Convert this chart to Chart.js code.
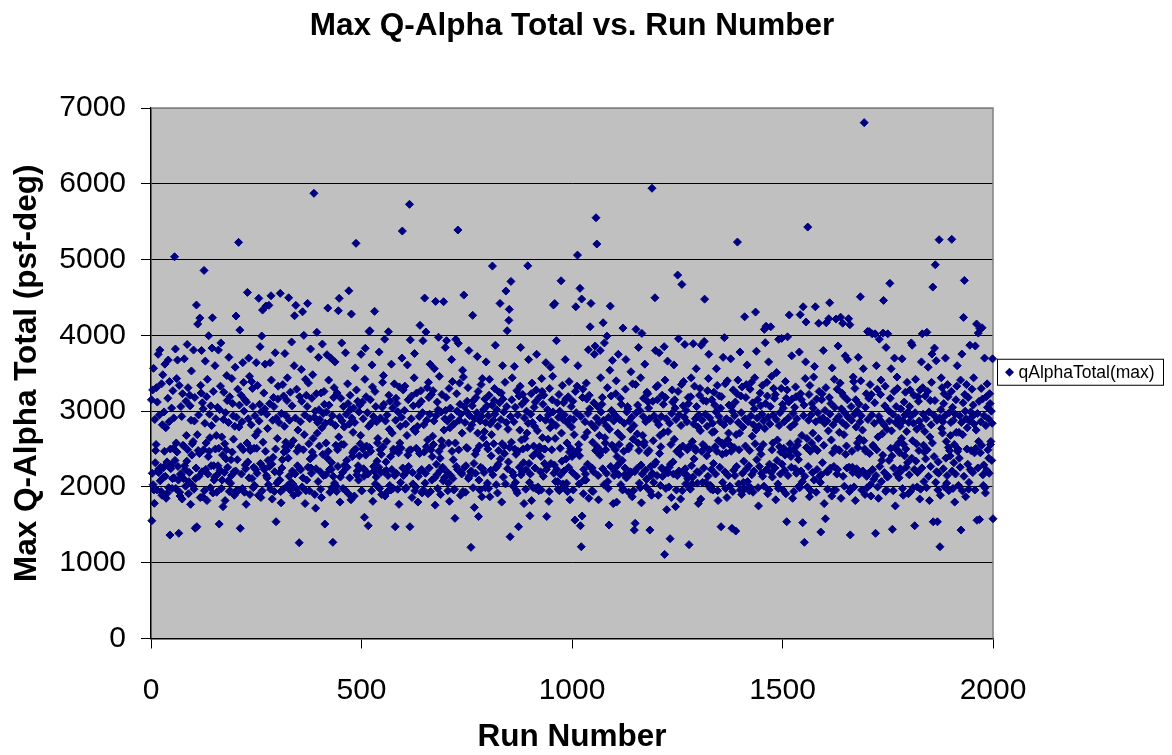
<!DOCTYPE html>
<html>
<head>
<meta charset="utf-8">
<title>Max Q-Alpha Total vs. Run Number</title>
<script src="https://cdn.jsdelivr.net/npm/chart.js@4.4.1/dist/chart.umd.min.js"></script>
<style>
  html, body { margin: 0; padding: 0; background: #fff; }
  #wrap { width: 1172px; height: 755px; }
</style>
</head>
<body>
<div id="wrap"><canvas id="chart" width="1172" height="755"></canvas></div>
<script>
const chartTitle = "Max Q-Alpha Total vs. Run Number";
const xTitle = "Run Number";
const yTitle = "Max Q-Alpha Total (psf-deg)";
const seriesLabel = "qAlphaTotal(max)";
const xTicks = [0, 500, 1000, 1500, 2000];
const yTicks = [0, 1000, 2000, 3000, 4000, 5000, 6000, 7000];
const firstRun = 1;

// max q-alpha total for each run, 10 runs per line
const qAlphaTotalMax = [
  // runs 1-100
  3150, 1554, 2180, 3280, 2030, 3565, 1960, 1784, 2890, 2320,
  2480, 2560, 3310, 1960, 3120, 2210, 3750, 2190, 2240, 2950,
  3806, 2080, 2260, 1940, 3360, 1890, 2820, 3480, 2250, 2130,
  2990, 2470, 3620, 2140, 2780, 1850, 2300, 2330, 1920, 3170,
  3674, 1990, 2860, 3390, 1365, 2500, 2240, 2290, 3040, 1980,
  2110, 3270, 2510, 2910, 2120, 5037, 2350, 3820, 1980, 2580,
  3430, 2460, 3674, 2270, 2090, 1388, 3340, 1930, 1880, 2170,
  3060, 2160, 2930, 1840, 3230, 2550, 2110, 2540, 3690, 2280,
  2230, 2010, 3130, 2680, 2340, 3880, 2490, 3310, 1910, 2070,
  2190, 3210, 3070, 1770, 2880, 3530, 2420, 2570, 2020, 2600,
  // runs 101-200
  3806, 1970, 2870, 3180, 1455, 2110, 2250, 4400, 1475, 2690,
  4149, 2480, 2950, 2140, 2440, 4228, 1860, 3340, 3240, 3800,
  2200, 3110, 1870, 3030, 2490, 4857, 1950, 2840, 3660, 2230,
  2580, 3190, 1820, 3420, 2170, 2400, 3995, 2470, 2960, 2650,
  1990, 3070, 2280, 2810, 3832, 4232, 1920, 3260, 2280, 2090,
  2130, 3600, 2500, 2900, 2680, 1930, 2160, 3050, 2280, 3806,
  2510, 1510, 3020, 2220, 3330, 3900, 1980, 2660, 2090, 2420,
  1740, 2890, 3250, 2190, 2570, 1820, 2980, 2370, 2490, 3470,
  3140, 2260, 2080, 2850, 3710, 1940, 3190, 1950, 2050, 2360,
  2150, 3430, 2460, 3100, 2940, 2630, 2200, 1890, 2800, 3580,
  // runs 201-300
  2210, 4255, 2920, 1960, 2360, 3290, 1950, 5227, 2790, 3080,
  4070, 1454, 2530, 3210, 2170, 2860, 1980, 3640, 2490, 3380,
  3000, 1930, 3150, 2290, 2240, 1770, 3120, 2580, 4567, 2330,
  2900, 3700, 2120, 3460, 1900, 2480, 2510, 2820, 3390, 2110,
  3300, 3060, 1990, 2260, 2510, 2020, 2940, 2680, 2230, 3640,
  2510, 2180, 3340, 2730, 1890, 4488, 2870, 3090, 3850, 2310,
  1860, 2990, 3991, 1950, 4334, 2590, 2260, 3240, 2230, 3030,
  3620, 2470, 4387, 2150, 2960, 2120, 2770, 2350, 2030, 4396,
  2270, 3100, 3640, 1970, 4522, 3410, 2300, 1840, 2880, 2390,
  3180, 3060, 1940, 2200, 3770, 2500, 1541, 2910, 2050, 2640,
  // runs 301-400
  3160, 3330, 2080, 2850, 2190, 2090, 4554, 1940, 1790, 2970,
  2250, 2360, 3350, 1970, 3200, 2460, 2800, 3760, 2530, 2590,
  2940, 2480, 3140, 3440, 2020, 2380, 4496, 2140, 2880, 1960,
  3250, 2550, 2060, 3912, 3070, 2210, 2040, 2610, 1890, 3600,
  4259, 2170, 2910, 4396, 1980, 3290, 2470, 2280, 2750, 1920,
  2520, 1264, 3190, 2230, 2860, 2230, 3550, 3130, 2000, 4311,
  2120, 2490, 4000, 2690, 2950, 1780, 3420, 1950, 3210, 2090,
  3060, 4422, 2260, 3370, 2570, 1950, 2900, 2370, 3820, 2250,
  2180, 3170, 2460, 3480, 2640, 2410, 5874, 2920, 1900, 3000,
  1720, 2240, 3230, 4040, 2710, 2850, 2070, 3710, 3020, 2540,
  // runs 401-500
  2890, 2200, 1970, 3240, 1860, 2780, 3885, 2430, 2970, 2150,
  3260, 3090, 1510, 2840, 2160, 2580, 2990, 3745, 2380, 4360,
  2470, 3410, 3080, 2230, 1930, 2860, 3700, 2230, 2320, 1990,
  2940, 1269, 2140, 3180, 3310, 2050, 3650, 2810, 2550, 2010,
  1940, 3240, 2490, 2270, 4325, 2660, 4488, 2920, 1800, 2130,
  3170, 2560, 3900, 2870, 2190, 1980, 3060, 2560, 2790, 2290,
  1960, 3770, 2250, 2960, 2350, 2260, 3360, 3100, 1910, 4588,
  2830, 2120, 3210, 3020, 1830, 4281, 2910, 2400, 2450, 2720,
  3040, 2480, 1880, 2850, 3570, 2500, 5214, 3280, 2160, 2210,
  3130, 2280, 2090, 2990, 2410, 3080, 2570, 2680, 3750, 1950,
  // runs 501-600
  1950, 3120, 2500, 2900, 2240, 2140, 1600, 3420, 3830, 2420,
  3190, 2540, 2190, 2980, 2170, 1488, 2800, 4050, 2520, 4061,
  3150, 2470, 2840, 1950, 3610, 3320, 1810, 2930, 2270, 2210,
  4317, 3260, 2040, 3060, 2130, 2860, 2340, 2580, 2640, 2000,
  2260, 3780, 1980, 2490, 2910, 2190, 2430, 1900, 3050, 3380,
  2530, 3470, 3090, 2200, 3950, 1880, 2870, 2330, 2220, 2600,
  2950, 1940, 2150, 4048, 3210, 2760, 2020, 3130, 2400, 1960,
  3620, 2230, 2710, 3040, 1980, 2500, 2470, 3360, 2150, 1475,
  2880, 3170, 2180, 3100, 2500, 1970, 2990, 2450, 1770, 3320,
  2580, 2800, 2060, 2510, 2920, 3700, 5376, 2250, 3280, 2150,
  // runs 601-700
  2160, 3010, 3330, 1970, 2830, 1990, 2200, 2680, 3610, 2420,
  3150, 2270, 2480, 5729, 1475, 3940, 2490, 2900, 3200, 1860,
  2190, 2040, 3070, 2760, 3440, 3760, 1950, 2730, 2000, 2510,
  3240, 2500, 2800, 1800, 2140, 3090, 2930, 2440, 4132, 2210,
  3270, 3130, 2230, 1920, 2980, 3930, 1960, 2820, 2460, 4492,
  2050, 2180, 4044, 2530, 2880, 3310, 2620, 1910, 3380, 3180,
  2250, 2960, 3620, 1940, 2490, 3220, 2090, 2400, 2670, 3270,
  2560, 2870, 3560, 2120, 1760, 4448, 2940, 2300, 2160, 3120,
  1980, 3020, 3975, 2470, 3460, 2210, 2380, 1900, 2990, 2610,
  3220, 2540, 2260, 2080, 4444, 2750, 2120, 2900, 3840, 3010,
  // runs 701-800
  3180, 3930, 2200, 2870, 1950, 2050, 2580, 3300, 1810, 2780,
  3040, 2150, 2920, 3680, 2470, 3390, 2110, 2360, 1960, 2830,
  1970, 1586, 2580, 3947, 2270, 3230, 3000, 2230, 5390, 3895,
  2490, 2880, 3370, 3090, 1890, 2960, 2190, 2170, 2710, 3540,
  1940, 3450, 4532, 3060, 2260, 2850, 1930, 2280, 2520, 2990,
  3130, 2510, 3310, 2110, 3800, 2140, 2940, 2770, 2200, 1203,
  2210, 2820, 3070, 4264, 1990, 3140, 2310, 1730, 2900, 2430,
  2180, 3180, 2480, 2980, 3720, 2710, 3260, 1610, 2090, 2540,
  1960, 2870, 2260, 3350, 2930, 1870, 3430, 2240, 2650, 3020,
  2190, 2730, 3160, 1990, 2850, 3650, 2560, 3070, 2050, 2500,
  // runs 801-900
  2940, 1980, 3210, 3420, 1870, 2830, 2220, 2410, 2690, 3080,
  4914, 2160, 2880, 2570, 3140, 3300, 2960, 3870, 2250, 2030,
  3020, 2270, 1920, 2800, 2300, 2480, 3250, 3110, 4422, 2370,
  2890, 3240, 1800, 2570, 3600, 3160, 2130, 2990, 2540, 2440,
  3380, 2040, 4585, 2850, 3060, 4061, 2240, 2760, 2330, 4198,
  4343, 2520, 1343, 2930, 4712, 2590, 3150, 3440, 2190, 2010,
  2150, 2860, 3590, 2500, 3050, 2060, 2430, 1950, 3270, 1920,
  2950, 2470, 1475, 3200, 2260, 2750, 3330, 3840, 2160, 2620,
  3090, 2200, 3220, 2500, 2320, 1780, 2910, 2640, 3140, 1970,
  2230, 3000, 2710, 2520, 4918, 2840, 3680, 2310, 2060, 1620,
  // runs 901-1000
  2170, 2960, 3230, 1820, 3370, 2850, 2410, 1990, 2540, 3050,
  2800, 2250, 3120, 1980, 3280, 3750, 2460, 2740, 2000, 2480,
  1950, 3180, 2530, 2910, 2200, 2400, 1960, 3430, 3260, 2650,
  3090, 2140, 3210, 2500, 2310, 2500, 2880, 3640, 2230, 1610,
  2270, 3020, 2630, 2950, 1810, 1940, 3300, 2780, 3580, 2310,
  2860, 2490, 3150, 3460, 2990, 4400, 2180, 2290, 4420, 2640,
  2070, 2810, 3930, 2230, 3110, 2070, 1970, 2920, 3220, 1950,
  3000, 2510, 2160, 4720, 2710, 2340, 3340, 2040, 2890, 3110,
  2210, 2950, 1980, 3680, 3160, 2370, 2050, 2580, 1940, 2840,
  3190, 2260, 3390, 2460, 1830, 2900, 2510, 3060, 2790, 2400,
  // runs 1001-1100
  2190, 3130, 1960, 2890, 2690, 2440, 1563, 3260, 4377, 2980,
  2140, 3330, 5059, 3600, 2490, 2560, 2040, 2410, 4620, 1488,
  2930, 1211, 4479, 1616, 3180, 3290, 1910, 2230, 2090, 2660,
  2860, 2170, 2090, 3370, 3160, 2720, 2300, 2970, 3810, 1850,
  3210, 3030, 4113, 2260, 4422, 2830, 1950, 2250, 2590, 1940,
  2200, 3110, 3750, 2780, 3859, 2480, 5552, 2910, 5205, 2530,
  3060, 2150, 1830, 2850, 2680, 2420, 3800, 3440, 2990, 2470,
  3090, 3180, 2240, 4166, 2880, 2030, 3900, 2650, 2580, 2490,
  2810, 2180, 3990, 3310, 2070, 1980, 2920, 1497, 2760, 3540,
  4386, 2270, 3200, 3010, 2550, 3670, 2540, 1780, 2870, 2150,
  // runs 1101-1200
  2210, 2950, 2490, 3230, 3400, 1800, 2400, 2280, 2710, 3750,
  2160, 2560, 2890, 2320, 3170, 2030, 3090, 2660, 2350, 1960,
  4096, 1970, 2470, 2840, 2160, 2250, 3290, 3680, 2120, 2990,
  2130, 3060, 3030, 2500, 1930, 2870, 2540, 2200, 2760, 3520,
  2190, 2920, 1870, 3360, 2630, 1950, 2810, 1431, 2200, 1520,
  3350, 4079, 2980, 2240, 2700, 3080, 2580, 3840, 2480, 2050,
  3010, 1990, 3440, 2290, 1790, 4026, 2170, 2680, 2930, 3170,
  2550, 2590, 3620, 2220, 2860, 2000, 2100, 3250, 2450, 3230,
  3120, 3040, 2480, 2900, 1431, 1940, 2270, 2150, 1890, 5941,
  2180, 3130, 2610, 2060, 2940, 2300, 4496, 3800, 2330, 3320,
  // runs 1201-1300
  2870, 2150, 3150, 3340, 1890, 2820, 3770, 2440, 2680, 2020,
  2530, 2930, 2250, 3210, 2140, 2230, 3090, 2720, 3850, 1110,
  3410, 3180, 1980, 2900, 1700, 2190, 3660, 2730, 2190, 2000,
  2260, 2840, 1317, 2300, 2560, 1860, 2970, 3280, 3120, 2330,
  2170, 3610, 2630, 3150, 3040, 1740, 2890, 1960, 2470, 2150,
  4795, 3260, 3955, 2210, 2950, 2510, 2430, 1840, 2810, 3350,
  4672, 1950, 2540, 3070, 3390, 2180, 2920, 3880, 2240, 2040,
  3010, 2160, 2860, 2490, 2110, 3180, 3100, 1238, 2540, 1980,
  1970, 3190, 3440, 2280, 2040, 2600, 2130, 3890, 2830, 2370,
  3330, 2510, 2900, 2480, 3560, 3060, 2200, 2050, 2790, 1780,
  // runs 1301-1400
  2950, 2190, 3210, 3300, 2740, 1840, 3870, 2470, 2880, 2060,
  2560, 3140, 2250, 3920, 4478, 2530, 2960, 2060, 3130, 2410,
  2800, 3270, 2140, 3430, 3750, 2490, 2910, 1990, 2020, 1970,
  2230, 3150, 2720, 2840, 1960, 2310, 3250, 2730, 3080, 2530,
  2170, 2990, 3560, 2470, 3340, 1950, 1820, 2610, 2930, 3200,
  2260, 2860, 3040, 1475, 3190, 2580, 2430, 2060, 3710, 2550,
  2820, 3970, 2200, 3360, 1980, 2450, 2900, 1860, 3400, 2620,
  2150, 2710, 3080, 2560, 2010, 2870, 3690, 2470, 3060, 1454,
  3000, 1940, 3280, 2220, 2520, 2940, 2150, 3120, 1418, 2690,
  2270, 3230, 5231, 3410, 2850, 2040, 2490, 2710, 3780, 1960,
  // runs 1401-1500
  3200, 2980, 1900, 3320, 2180, 2790, 2060, 2340, 1970, 4245,
  2900, 2540, 3180, 3350, 2240, 3610, 2070, 2860, 2000, 2280,
  1950, 2480, 3290, 1990, 2940, 3380, 2160, 2670, 3110, 1930,
  2820, 2210, 3030, 3440, 2570, 4307, 2750, 3790, 2360, 2910,
  3150, 1990, 1750, 2800, 2270, 2500, 3240, 3070, 2430, 2180,
  2960, 3340, 2140, 2560, 2870, 2010, 4079, 2770, 3903, 3100,
  4120, 2230, 3380, 3200, 1910, 2920, 3650, 1960, 2300, 2830,
  3060, 4113, 2190, 3460, 2490, 2130, 2580, 2950, 3300, 2260,
  3170, 2250, 3220, 1830, 2890, 3510, 2350, 2620, 2040, 1980,
  3947, 2810, 2530, 2980, 2170, 2460, 3300, 3960, 2300, 3090,
  // runs 1501-1600
  1960, 3040, 2510, 2860, 2220, 2420, 3390, 1910, 3170, 1541,
  3280, 3980, 2150, 2910, 3120, 4269, 2480, 2570, 2790, 2400,
  2260, 3730, 3160, 1850, 2970, 2490, 1940, 2830, 3050, 2240,
  3320, 3190, 2180, 2900, 2550, 2430, 2600, 2360, 2010, 3780,
  1990, 4273, 3230, 2210, 3150, 2680, 2070, 1528, 4377, 2940,
  3080, 1269, 2140, 3430, 3650, 4176, 2520, 2640, 2000, 5429,
  2270, 2880, 3220, 1870, 3340, 2470, 1950, 2950, 2580, 3100,
  2190, 2710, 3040, 3450, 2090, 3590, 2510, 4377, 2860, 1930,
  3160, 2230, 2480, 2980, 2640, 4160, 3260, 2140, 2890, 2060,
  1405, 2160, 3150, 3230, 2320, 2910, 3800, 2550, 1780, 2840,
  // runs 1601-1700
  3010, 1580, 3310, 4166, 2200, 2870, 1970, 2200, 2740, 4220,
  3180, 4430, 2960, 2250, 3100, 2620, 1880, 3570, 2450, 2820,
  1950, 2270, 3420, 3050, 2510, 1960, 4215, 2890, 2170, 3290,
  2230, 3860, 2490, 2930, 2720, 2480, 3370, 4240, 1850, 3030,
  3240, 2850, 4160, 2140, 3200, 2690, 2010, 2980, 3730, 2430,
  2810, 2540, 2250, 3150, 3680, 2920, 4220, 2260, 1940, 4140,
  1367, 1980, 3060, 2880, 2470, 2260, 2190, 3450, 3390, 2000,
  2960, 3300, 1820, 3150, 2790, 2240, 3000, 2580, 2520, 3710,
  2160, 3090, 2640, 2860, 4509, 3400, 2940, 1960, 2200, 2750,
  2210, 3560, 2610, 6807, 2500, 1900, 3050, 2470, 3230, 2140,
  // runs 1701-1800
  1990, 4050, 2890, 2180, 3170, 4050, 2440, 3350, 2030, 1880,
  3220, 2950, 4020, 2230, 2550, 2530, 2100, 2840, 3110, 4020,
  1388, 2150, 3600, 2490, 3290, 2000, 2660, 1850, 2930, 3950,
  2270, 2880, 3220, 3410, 2070, 2350, 2700, 2420, 4030, 4461,
  2820, 2190, 3070, 3330, 1940, 3840, 1960, 2760, 2130, 4020,
  2140, 3010, 2350, 2870, 4686, 3170, 2510, 3560, 2740, 2410,
  1441, 2960, 1950, 2250, 3260, 3700, 2520, 1750, 2850, 3060,
  2170, 3450, 3300, 2480, 2910, 2580, 2120, 2450, 2800, 2240,
  3030, 2210, 2640, 3690, 1980, 2870, 1890, 2560, 3120, 2410,
  2950, 3250, 2500, 2260, 2730, 3380, 2320, 2990, 1910, 2850,
  // runs 1801-1900
  2160, 3060, 3280, 1940, 2930, 3900, 2380, 3870, 2610, 1990,
  2840, 3210, 2230, 1488, 2980, 3420, 2340, 2570, 2760, 2000,
  2190, 3190, 3130, 2480, 2870, 1840, 3280, 1970, 2800, 3650,
  2250, 4020, 3310, 2960, 2550, 2070, 2460, 2730, 3200, 2370,
  2900, 1990, 4040, 2490, 3260, 3580, 2140, 2990, 1820, 2660,
  3140, 2270, 2820, 3380, 3753, 2580, 4637, 1540, 2950, 2400,
  3832, 3140, 4931, 2060, 3665, 2200, 2880, 1540, 1960, 2330,
  2180, 5262, 2910, 1211, 1890, 3020, 3440, 2770, 3310, 2710,
  2860, 2240, 3100, 3230, 2000, 2940, 3700, 2380, 2600, 2050,
  2150, 3350, 3190, 2520, 1950, 2980, 2480, 2410, 2680, 2850,
  // runs 1901-2000
  3260, 5267, 2210, 3050, 1980, 2880, 2320, 2560, 1800, 2960,
  2170, 3150, 2720, 3330, 3600, 2470, 2500, 2020, 2720, 2380,
  2940, 2260, 3410, 1431, 2850, 3753, 1950, 2690, 3110, 4237,
  2140, 4725, 3220, 3000, 1870, 2900, 3350, 2500, 2780, 2300,
  3180, 1970, 2060, 2870, 3870, 2230, 2990, 2480, 2210, 3290,
  2930, 2190, 3080, 3440, 2830, 2450, 1960, 3860, 2510, 2750,
  4150, 1560, 2970, 2250, 4030, 2600, 3130, 1570, 4090, 2450,
  2860, 3300, 2550, 4100, 3160, 2160, 2020, 2290, 2940, 3700,
  1990, 1920, 2810, 3190, 2220, 3360, 3050, 2490, 2900, 2380,
  2180, 3230, 3100, 2560, 2600, 3000, 2350, 2840, 3690, 1580
];

const FONT = "Arial, 'Liberation Sans', sans-serif";
const markerColor = "#000080";

const points = qAlphaTotalMax.map((v, i) => ({ x: firstRun + i, y: v }));

// grey plot area, grey top/right frame, title centred on the plot, boxed legend
const excelFrame = {
  id: "excelFrame",
  beforeDraw(chart) {
    const { ctx, chartArea: a } = chart;
    ctx.save();
    ctx.fillStyle = "#c0c0c0";
    ctx.fillRect(a.left, a.top, a.right - a.left, a.bottom - a.top);
    ctx.restore();
  },
  beforeDatasetsDraw(chart) {
    const { ctx, chartArea: a } = chart;
    ctx.save();
    ctx.strokeStyle = "#808080";
    ctx.lineWidth = 1.5;
    ctx.beginPath();
    ctx.moveTo(a.left, a.top);
    ctx.lineTo(a.right, a.top);
    ctx.lineTo(a.right, a.bottom);
    ctx.stroke();
    ctx.restore();
  },
  afterDraw(chart) {
    const { ctx, chartArea: a } = chart;
    ctx.save();
    ctx.fillStyle = "#000";
    ctx.font = "bold 31.5px " + FONT;
    ctx.textAlign = "center";
    ctx.textBaseline = "alphabetic";
    ctx.fillText(chartTitle, (a.left + a.right) / 2, 35);

    const ds = chart.data.datasets[0];
    const boxX = a.right + 4.5, boxW = 166, boxH = 26;
    const boxY = (a.top + a.bottom) / 2 - boxH / 2 - 1;
    ctx.fillStyle = "#fff";
    ctx.fillRect(boxX, boxY, boxW, boxH);
    ctx.strokeStyle = "#000";
    ctx.lineWidth = 1;
    ctx.strokeRect(boxX, boxY, boxW, boxH);
    const cx = boxX + 12, cy = boxY + boxH / 2;
    ctx.fillStyle = ds.backgroundColor;
    ctx.beginPath();
    ctx.moveTo(cx - 4.5, cy);
    ctx.lineTo(cx, cy - 4.5);
    ctx.lineTo(cx + 4.5, cy);
    ctx.lineTo(cx, cy + 4.5);
    ctx.closePath();
    ctx.fill();
    ctx.fillStyle = "#000";
    ctx.font = "17.5px " + FONT;
    ctx.textAlign = "left";
    ctx.textBaseline = "middle";
    ctx.fillText(ds.label, cx + 9, cy + 1);
    ctx.restore();
  }
};

new Chart(document.getElementById("chart"), {
  type: "scatter",
  data: {
    datasets: [{
      label: seriesLabel,
      data: points,
      pointStyle: "rectRot",
      pointRadius: 4,
      pointHoverRadius: 4,
      backgroundColor: markerColor,
      borderColor: markerColor,
      borderWidth: 1,
      clip: false
    }]
  },
  options: {
    responsive: false,
    animation: false,
    devicePixelRatio: 1,
    layout: { padding: { left: 0, right: 179, top: 108, bottom: 0 } },
    plugins: {
      legend: { display: false },
      tooltip: { enabled: false },
      title: { display: false }
    },
    scales: {
      x: {
        type: "linear",
        min: 0,
        max: 2000,
        afterBuildTicks: s => { s.ticks = xTicks.map(v => ({ value: v })); },
        afterFit: s => { s.height = 116.5; },
        ticks: {
          color: "#000",
          font: { family: FONT, size: 30 },
          padding: 24,
          maxRotation: 0,
          callback: v => String(v)
        },
        grid: {
          drawOnChartArea: false,
          drawTicks: true,
          tickLength: 10,
          tickColor: "#000"
        },
        border: { color: "#000", width: 1.5 },
        title: {
          display: true,
          text: xTitle,
          color: "#000",
          font: { family: FONT, size: 31.5, weight: "bold", lineHeight: 1 },
          padding: { top: 0, bottom: 2 }
        }
      },
      y: {
        type: "linear",
        min: 0,
        max: 7000,
        afterBuildTicks: s => { s.ticks = yTicks.map(v => ({ value: v })); },
        afterFit: s => { s.width = 151; },
        ticks: {
          color: "#000",
          font: { family: FONT, size: 30 },
          padding: 15,
          callback: v => String(v)
        },
        grid: {
          color: c => (c.tick && c.tick.value === 7000) ? "#808080" : "#000",
          lineWidth: 1,
          drawTicks: true,
          tickLength: 10,
          tickColor: "#000"
        },
        border: { color: "#000", width: 1.5 },
        title: {
          display: true,
          text: yTitle,
          color: "#000",
          font: { family: FONT, size: 31.5, weight: "bold" },
          padding: { top: 8, bottom: 0 }
        }
      }
    }
  },
  plugins: [excelFrame]
});
</script>
</body>
</html>
